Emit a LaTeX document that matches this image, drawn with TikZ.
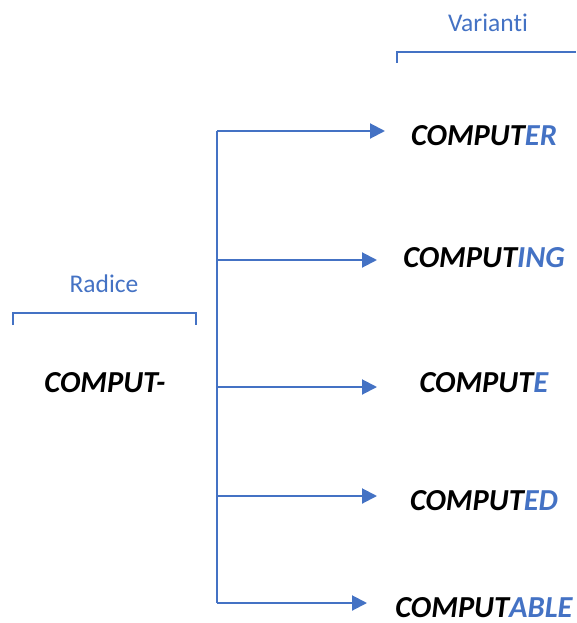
\documentclass[tikz,border=0pt]{standalone}
\usepackage{fontspec}
\setmainfont{Carlito}[Ligatures=NoCommon]
\usetikzlibrary{arrows.meta}
\definecolor{accent}{HTML}{4472C4}

\tikzset{
	word/.style={font=\fontsize{30.5}{34}\selectfont\bfseries\itshape, inner sep=0pt, anchor=base},
	tag/.style={font=\fontsize{25.5}{28}\selectfont, text=accent, inner sep=0pt, anchor=base},
	brace/.style={accent, line width=1.5pt},
	trunk/.style={accent, line width=2pt},
	link/.style={accent, line width=2pt, -{Triangle[length=15pt, width=15pt]}}
}

\begin{document}
\begin{tikzpicture}[x=1pt, y=-1pt]
	\useasboundingbox (0, 0) rectangle (576, 623);

	% radice
	\node[tag] (rad) at (104, 292) {Radice};
	\draw[brace] (13, 325) |- (196, 313) -- (196, 325);
	\node[word] (root) at (105, 392) {COMPUT-};

	% varianti
	\node[tag] (var) at (488, 32) {Varianti};
	\draw[brace] (397, 63) |- (576, 52);

	\coordinate (top) at (217, 131);
	\coordinate (bot) at (217, 603);
	\draw[trunk] (top) -- (bot);

	\foreach \y/\b/\tip/\suf/\n in {131/145/385/ER/1, 260/267/377/ING/2, 387/392/377/E/3, 496/510/377/ED/4, 603/617/367/ABLE/5} {
			\node[word] (v\n) at (484, \b) {COMPUT\textcolor{accent}{\suf}};
			\coordinate (t\n) at (\tip, \y);
			\draw[link] (top |- t\n) -- (t\n);
		}
\end{tikzpicture}
\end{document}
